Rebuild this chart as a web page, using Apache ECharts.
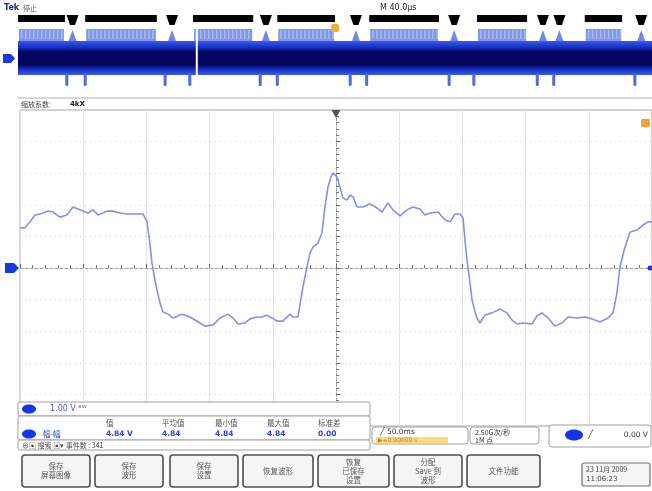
<!DOCTYPE html>
<html><head><meta charset="utf-8">
<script src="https://cdn.jsdelivr.net/npm/echarts@6/dist/echarts.min.js"></script>
<style>html,body{margin:0;padding:0;background:#fff}#c{width:652px;height:491px}</style>
</head><body><div id="c"></div>
<script>
// ---- waveform (time in μs, 40 μs/div; voltage in V, 1 V/div) ----
const timeUs = [-200,-196.8,-193.7,-190.5,-187.3,-182.3,-179.1,-174.7,-170.3,-166.5,-162.0,-157.0,-153.8,-150.6,-144.9,-141.1,-136.7,-132.3,-127.2,-122.2,-119.6,-117.7,-116.5,-114.6,-113.3,-111.4,-109.5,-106.3,-103.2,-100.0,-97.5,-92.4,-86.1,-82.9,-77.8,-73.4,-68.4,-65.2,-62.0,-57.6,-54.4,-50.0,-46.8,-43.7,-40.5,-37.3,-33.5,-29.1,-27.2,-24.1,-22.8,-20.9,-18.4,-16.5,-14.6,-11.4,-8.9,-7.0,-5.1,-3.2,-1.9,0.6,2.5,4.4,7.0,8.9,10.8,13.3,17.1,21.5,25.9,29.1,32.9,36.1,40.5,44.9,48.7,53.2,56.3,59.5,64.6,69.0,72.2,75.3,78.5,80.4,81.6,82.9,84.8,86.1,88.0,89.2,91.1,94.3,98.7,103.8,108.2,111.4,114.6,118.4,124.1,127.2,130.4,134.2,138.6,143.0,146.8,152.5,157.6,162.0,167.1,172.2,175.3,176.6,177.8,179.7,182.9,186.1,190.5,194.3,197.5,200];
const volts = [1.27,1.27,1.46,1.68,1.71,1.80,1.77,1.61,1.68,1.93,1.84,1.74,1.84,1.68,1.80,1.80,1.74,1.71,1.71,1.71,1.46,0.73,0.16,-0.38,-0.70,-1.11,-1.39,-1.46,-1.58,-1.52,-1.46,-1.55,-1.74,-1.84,-1.80,-1.58,-1.46,-1.58,-1.77,-1.74,-1.61,-1.55,-1.55,-1.49,-1.58,-1.68,-1.68,-1.46,-1.55,-1.55,-1.17,-0.60,0.03,0.47,0.66,0.79,1.11,1.93,2.56,2.88,3.01,2.88,2.56,2.22,2.15,2.31,2.25,1.93,1.93,2.03,1.90,1.77,2.06,1.84,1.65,1.84,1.93,1.87,1.68,1.74,1.77,1.52,1.46,1.71,1.71,1.58,0.89,0.25,-0.47,-1.01,-1.39,-1.58,-1.74,-1.49,-1.42,-1.30,-1.42,-1.65,-1.77,-1.74,-1.77,-1.52,-1.42,-1.58,-1.84,-1.74,-1.55,-1.58,-1.55,-1.61,-1.71,-1.58,-1.42,-1.11,-0.79,0.03,0.66,1.14,1.20,1.36,1.46,1.46];

// ---- record overview (positions in % of record) ----
const overviewBursts = [[0,7.4],[10.6,21.9],[27.6,37.1],[40.9,50.0],[55.4,66.4],[72.4,80.3],[89.4,95.3]];
const overviewNotches = [8.6,24.3,39.1,53.3,68.8,82.8,85.4,98.3];
const overviewSpikes = [7.7,10.6,23.2,27.1,38.2,40.9,52.4,55.0,68.0,71.9,81.9,84.5,97.3];
const overviewCursor = [28.2];

// ---- readouts ----
const measHeaders = ['值','平均值','最小值','最大值','标准差'];
const measValues = ['4.84 V','4.84','4.84','4.84','0.00'];
const buttonLabels = ['保存\n屏幕图像','保存\n波形','保存\n设置','恢复波形','恢复\n已保存\n设置','分配\nSave 到\n波形','文件功能'];

const CJK = '"Noto Sans CJK SC","Noto Sans",sans-serif';
const chart = echarts.init(document.getElementById('c'), null, {renderer:'canvas'});

const g = [];
function txt(x, y, text, o) {
  g.push({type:'text', z:110, style:Object.assign({x:x, y:y, text:text, fill:'#333', fontSize:8, fontFamily:CJK, verticalAlign:'middle', align:'left'}, o || {})});
}
function box(x, y, w, h, st, r) {
  g.push({type:'rect', z:100, shape:{x:x, y:y, width:w, height:h, r:(r == null ? 2 : r)}, style:Object.assign({fill:'#fff', stroke:'#a0a0a0', lineWidth:1}, st || {})});
}
function oval(cx, cy, rx, ry) {
  g.push({type:'ellipse', z:105, shape:{cx:cx, cy:cy, rx:rx, ry:ry}, style:{fill:'#1636e6'}});
}
function poly(pts, fill, z) {
  g.push({type:'polygon', z:z || 105, shape:{points:pts}, style:{fill:fill}});
}

// top texts
txt(4, 8, 'Tek', {fontWeight:'bold', fill:'#1d2a6b', fontFamily:'DejaVu Sans', fontSize:8});
txt(23, 8, '停止', {fontSize:7, fill:'#555'});
txt(380, 8, 'M 40.0μs', {fontSize:8, fill:'#222', fontFamily:'DejaVu Sans'});
poly([[3,54],[11,54],[15,58.5],[11,63],[3,63]], '#1838e0');
g.push({type:'rect', z:105, shape:{x:331, y:24, width:8, height:8, r:2}, style:{fill:'#f0b040'}});
g.push({type:'line', z:50, shape:{x1:18, y1:98, x2:652, y2:98}, style:{stroke:'#b0b0b0', lineWidth:1}});
txt(21, 104, '缩放系数:', {fontSize:7, fill:'#444'});
txt(70, 104, '4kX', {fontSize:7, fill:'#222', fontWeight:'bold', fontFamily:'DejaVu Sans'});

// main plot markers
poly([[5,263],[14,263],[19,268],[14,273],[5,273]], '#1838e0');
g.push({type:'circle', z:105, shape:{cx:650, cy:268, r:2.5}, style:{fill:'#1838e0'}});
poly([[331.5,110],[340.5,110],[336,118]], '#555');
g.push({type:'rect', z:105, shape:{x:641, y:119, width:9, height:8, r:1}, style:{fill:'#f2a43a'}});

// bottom-left readouts
box(18, 402, 352, 14);
oval(29, 409, 7, 4.5);
txt(50, 409, '1.00 V ᴮᵂ', {fill:'#4a5ad8', fontFamily:'DejaVu Sans', fontSize:8});
box(18, 416, 352, 24);
const colX = [106, 162, 215, 267, 318];
measHeaders.forEach((h, i) => txt(colX[i], 423, h, {fontSize:7.5, fill:'#555'}));
measValues.forEach((v, i) => txt(colX[i], 434, v, {fontSize:7.5, fill:'#2a45d8', fontWeight:'bold', fontFamily:'DejaVu Sans'}));
oval(29, 434, 7, 4.5);
txt(43, 434, '幅-幅', {fill:'#2a45d8', fontSize:7.5});
box(18, 440, 352, 10);
txt(22, 445.5, '⊕▣ 搜索 ▣▾ 事件数 : 341', {fontSize:7, fill:'#444'});

// right readouts
box(372, 427, 96, 17, null, 3);
txt(380, 432, '╱ 50.0ms', {fontSize:7.5, fill:'#333', fontFamily:'DejaVu Sans'});
g.push({type:'rect', z:104, shape:{x:376, y:437, width:72, height:6}, style:{fill:'#f8dc80'}});
txt(378, 440, '▶+0.00000 s', {fontSize:6, fill:'#c87800', fontFamily:'DejaVu Sans'});
box(470, 427, 69, 17, null, 3);
txt(475, 432, '2.50G次/秒', {fontSize:7, fill:'#333'});
txt(475, 440, '1M 点', {fontSize:7, fill:'#333'});
box(549, 425, 102, 22, null, 3);
oval(574, 435, 9, 5.5);
txt(588, 435, '╱', {fontSize:8, fill:'#222', fontFamily:'DejaVu Sans'});
txt(648, 435, '0.00 V', {fontSize:7.5, fill:'#333', align:'right', fontFamily:'DejaVu Sans'});

// buttons
const btnX = [[22,90],[95,163],[170,238],[243,313],[318,389],[394,462],[467,540]];
buttonLabels.forEach((lab, i) => {
  const [a, b] = btnX[i];
  box(a, 455, b - a, 32, {fill:'#f5f5f5', stroke:'#505050', lineWidth:1.6}, 3);
  txt((a + b) / 2, 471, lab, {align:'center', fontSize:7.5, fill:'#555', lineHeight:9});
});
box(582, 463, 68, 23, {fill:'#f5f5f5', stroke:'#707070', lineWidth:1.2}, 2);
txt(586, 469, '23 11月 2009', {fontSize:7, fill:'#444'});
txt(586, 479, '11:06:23', {fontSize:7, fill:'#444', fontFamily:'DejaVu Sans'});

const bandGrad = new echarts.graphic.LinearGradient(0, 0, 0, 1, [
  {offset:0, color:'#3a5ce6'}, {offset:0.18, color:'#1530c8'}, {offset:0.32, color:'#05065e'},
  {offset:0.7, color:'#05065e'}, {offset:0.84, color:'#1530c8'}, {offset:1, color:'#3a5ce6'}
]);

function xPix(api, v) { return api.coord([v, 0])[0]; }

const option = {
  animation: false,
  backgroundColor: '#fff',
  grid: [
    {left:20, right:0, top:110, height:316, show:true, borderColor:'#a8a8a8', borderWidth:1, backgroundColor:'transparent'},
    {left:18, right:0, top:10, height:80}
  ],
  xAxis: [
    {gridIndex:0, type:'value', min:-200, max:200, interval:40,
     axisLine:{show:true, onZero:true, lineStyle:{color:'#a0a0a0', type:[3,2]}},
     axisTick:{show:true, length:4, inside:true, lineStyle:{color:'#666'}},
     minorTick:{show:true, splitNumber:5, length:3, lineStyle:{color:'#777'}},
     axisLabel:{show:false},
     splitLine:{show:true, lineStyle:{color:'#e4e4e4', width:1}}},
    {gridIndex:1, type:'value', min:0, max:100, show:false}
  ],
  yAxis: [
    {gridIndex:0, type:'value', min:-5, max:5, interval:1,
     axisLine:{show:true, onZero:true, lineStyle:{color:'#a0a0a0', type:[3,2]}},
     axisTick:{show:true, length:4, inside:true, lineStyle:{color:'#666'}},
     minorTick:{show:true, splitNumber:5, length:3, lineStyle:{color:'#777'}},
     axisLabel:{show:false},
     splitLine:{show:true, lineStyle:{color:'#cfcfcf', type:[1,4]}}},
    {gridIndex:1, type:'value', min:0, max:80, inverse:true, show:false}
  ],
  series: [
    {type:'line', xAxisIndex:0, yAxisIndex:0, showSymbol:false, z:5,
     lineStyle:{color:'#8b8de8', width:1.6}, silent:true,
     data: timeUs.map((t, i) => [t, volts[i]]).filter(p => p[1] != null)},
    {type:'custom', xAxisIndex:1, yAxisIndex:1, encode:{x:[0,1]}, silent:true, z:2,
     data:[[0,100]],
     renderItem:(params, api) => {
       const x0 = xPix(api, api.value(0)), x1 = xPix(api, api.value(1)), top = params.coordSys.y;
       return {type:'rect', shape:{x:x0, y:top + 31, width:x1 - x0, height:34}, style:{fill:bandGrad}};
     }},
    {type:'custom', xAxisIndex:1, yAxisIndex:1, encode:{x:[0,1]}, silent:true, z:3,
     data: overviewBursts,
     renderItem:(params, api) => {
       const x0 = xPix(api, api.value(0)), x1 = xPix(api, api.value(1)), top = params.coordSys.y;
       const kids = [
         {type:'rect', shape:{x:x0, y:top + 5, width:x1 - x0, height:7}, style:{fill:'#000'}},
         {type:'rect', shape:{x:x0 + 1, y:top + 19, width:Math.max(0, x1 - x0 - 2), height:12}, style:{fill:'#7f97e6'}}
       ];
       for (let x = x0 + 3; x < x1 - 2; x += 4) {
         kids.push({type:'rect', shape:{x:x, y:top + 20, width:1.5, height:9}, style:{fill:'#a9bbf0'}});
       }
       return {type:'group', children:kids};
     }},
    {type:'custom', xAxisIndex:1, yAxisIndex:1, encode:{x:0}, silent:true, z:3,
     data: overviewNotches.map(v => [v, 0]),
     renderItem:(params, api) => {
       const cx = xPix(api, api.value(0)), top = params.coordSys.y;
       return {type:'group', children:[
         {type:'polygon', shape:{points:[[cx-6, top+5],[cx+6, top+5],[cx+2.5, top+15],[cx-2.5, top+15]]}, style:{fill:'#000'}},
         {type:'polygon', shape:{points:[[cx, top+20],[cx+4, top+31],[cx-4, top+31]]}, style:{fill:'#6f88e0'}}
       ]};
     }},
    {type:'custom', xAxisIndex:1, yAxisIndex:1, encode:{x:0}, silent:true, z:3,
     data: overviewSpikes.map(v => [v, 0]),
     renderItem:(params, api) => {
       const cx = xPix(api, api.value(0)), top = params.coordSys.y;
       return {type:'rect', shape:{x:cx - 1.5, y:top + 63, width:3, height:13, r:1.5}, style:{fill:'#4d6ad8'}};
     }},
    {type:'custom', xAxisIndex:1, yAxisIndex:1, encode:{x:0}, silent:true, z:4,
     data: overviewCursor.map(v => [v, 0]),
     renderItem:(params, api) => {
       const cx = xPix(api, api.value(0)), top = params.coordSys.y;
       return {type:'rect', shape:{x:cx - 1, y:top + 18, width:2, height:48}, style:{fill:'#ffffff'}};
     }}
  ],
  graphic: g
};
chart.setOption(option);
</script></body></html>
